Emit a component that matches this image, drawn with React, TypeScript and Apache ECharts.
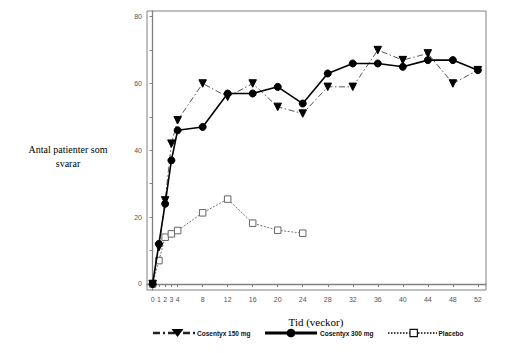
import React, { useEffect, useRef } from "react";
import * as echarts from "echarts";

const weeks = [0, 1, 2, 3, 4, 8, 12, 16, 20, 24, 28, 32, 36, 40, 44, 48, 52];
const placeboWeeks = [0, 1, 2, 3, 4, 8, 12, 16, 20, 24];
const cos150 = [0, 11, 25, 42, 49, 60, 56, 60, 53, 51, 59, 59, 70, 67, 69, 60, 64];
const cos300 = [0, 12, 24, 37, 46, 47, 57, 57, 59, 54, 63, 66, 66, 65, 67, 67, 64];
const placebo = [0, 7, 14, 15, 16, 21.3, 25.4, 18.2, 16.1, 15.2];
const xTicks = [0, 1, 2, 3, 4, 8, 12, 16, 20, 24, 28, 32, 36, 40, 44, 48, 52];
const yLabels = [0, 20, 40, 60, 80];
const yTicks = [0, 10, 20, 30, 40, 50, 60, 70, 80];
const seriesNames = ["Cosentyx 150 mg", "Cosentyx 300 mg", "Placebo"];

export default function App() {
  const ref = useRef<HTMLDivElement>(null);
  useEffect(() => {
    if (!ref.current) return;
    const chart = echarts.init(ref.current, null, { renderer: "svg" });
    const axisColor = "#808080";
    const labelStyle = { fontSize: 7, color: "#555", fontFamily: "Liberation Sans, Arial, sans-serif" };
    const legendText = {
      fontSize: 7.5,
      fontWeight: "bold",
      fill: "#111",
      fontFamily: "Liberation Sans, Arial, sans-serif",
      verticalAlign: "middle",
    };
    const ly = 333;
    chart.setOption({
      animation: false,
      backgroundColor: "#fff",
      grid: { left: 147, top: 11, right: 29, bottom: 63, show: true, borderColor: axisColor, borderWidth: 1 },
      xAxis: {
        type: "value",
        min: -0.9,
        max: 53.3,
        axisLine: { show: true, lineStyle: { color: axisColor, width: 1.3 } },
        axisTick: { show: true, length: 3, customValues: xTicks, lineStyle: { color: axisColor } },
        axisLabel: { ...labelStyle, margin: 6, customValues: xTicks },
        splitLine: { show: false },
      },
      yAxis: {
        type: "value",
        min: -1.8,
        max: 81.7,
        axisLine: { show: true, lineStyle: { color: axisColor, width: 1.3 } },
        axisTick: { show: true, length: 3, customValues: yTicks, lineStyle: { color: axisColor } },
        axisLabel: { ...labelStyle, margin: 5, customValues: yLabels },
        splitLine: { show: false },
      },
      graphic: [
        {
          type: "text",
          x: 68,
          y: 142,
          style: {
            text: "Antal patienter som\nsvarar",
            align: "center",
            verticalAlign: "top",
            fontSize: 10,
            lineHeight: 14,
            fontFamily: "Liberation Serif, Times New Roman, serif",
            fill: "#000",
          },
        },
        {
          type: "text",
          x: 316,
          y: 322,
          style: {
            text: "Tid (veckor)",
            align: "center",
            verticalAlign: "middle",
            fontSize: 11,
            fontFamily: "Liberation Serif, Times New Roman, serif",
            fill: "#000",
          },
        },
        {
          type: "line",
          shape: { x1: 153, y1: ly, x2: 195, y2: ly },
          style: { stroke: "#222", lineWidth: 2.5, lineDash: [7, 3, 2, 3] },
        },
        {
          type: "polygon",
          shape: { points: [[171.5, ly - 4], [183.5, ly - 4], [177.5, ly + 4]] },
          style: { fill: "#000" },
        },
        { type: "text", x: 197, y: ly, scaleX: 0.87, style: { ...legendText, text: seriesNames[0] } },
        {
          type: "line",
          shape: { x1: 265, y1: ly, x2: 317, y2: ly },
          style: { stroke: "#000", lineWidth: 3 },
        },
        { type: "circle", shape: { cx: 291, cy: ly, r: 4.3 }, style: { fill: "#000" } },
        { type: "text", x: 320, y: ly, scaleX: 0.87, style: { ...legendText, text: seriesNames[1] } },
        {
          type: "line",
          shape: { x1: 388, y1: ly, x2: 437, y2: ly },
          style: { stroke: "#444", lineWidth: 2, lineDash: [1.5, 1.5] },
        },
        {
          type: "rect",
          shape: { x: 410, y: ly - 3.7, width: 7.4, height: 7.4 },
          style: { fill: "#fff", stroke: "#111", lineWidth: 1.2 },
        },
        { type: "text", x: 438.5, y: ly, scaleX: 0.87, style: { ...legendText, text: seriesNames[2] } },
      ],
      series: [
        {
          name: seriesNames[2],
          type: "line",
          data: placeboWeeks.map((w, i) => [w, placebo[i]]),
          symbol: "rect",
          symbolSize: 6.5,
          z: 1,
          lineStyle: { color: "#777", width: 1, type: [2, 1.5] },
          itemStyle: { color: "#fff", borderColor: "#666", borderWidth: 1 },
        },
        {
          name: seriesNames[0],
          type: "line",
          data: weeks.map((w, i) => [w, cos150[i]]),
          symbol: "triangle",
          symbolRotate: 180,
          symbolSize: 7.5,
          z: 2,
          lineStyle: { color: "#555", width: 1, type: [6, 2.5, 1.5, 2.5] },
          itemStyle: { color: "#000", borderColor: "#000" },
        },
        {
          name: seriesNames[1],
          type: "line",
          data: weeks.map((w, i) => [w, cos300[i]]),
          symbol: "circle",
          symbolSize: 7,
          z: 3,
          lineStyle: { color: "#000", width: 1.6, type: "solid" },
          itemStyle: { color: "#000", borderColor: "#000" },
        },
      ],
    });
    return () => chart.dispose();
  }, []);
  return (
    <div
      ref={ref}
      style={{ position: "absolute", left: 0, top: 0, width: 515, height: 353 }}
    />
  );
}
